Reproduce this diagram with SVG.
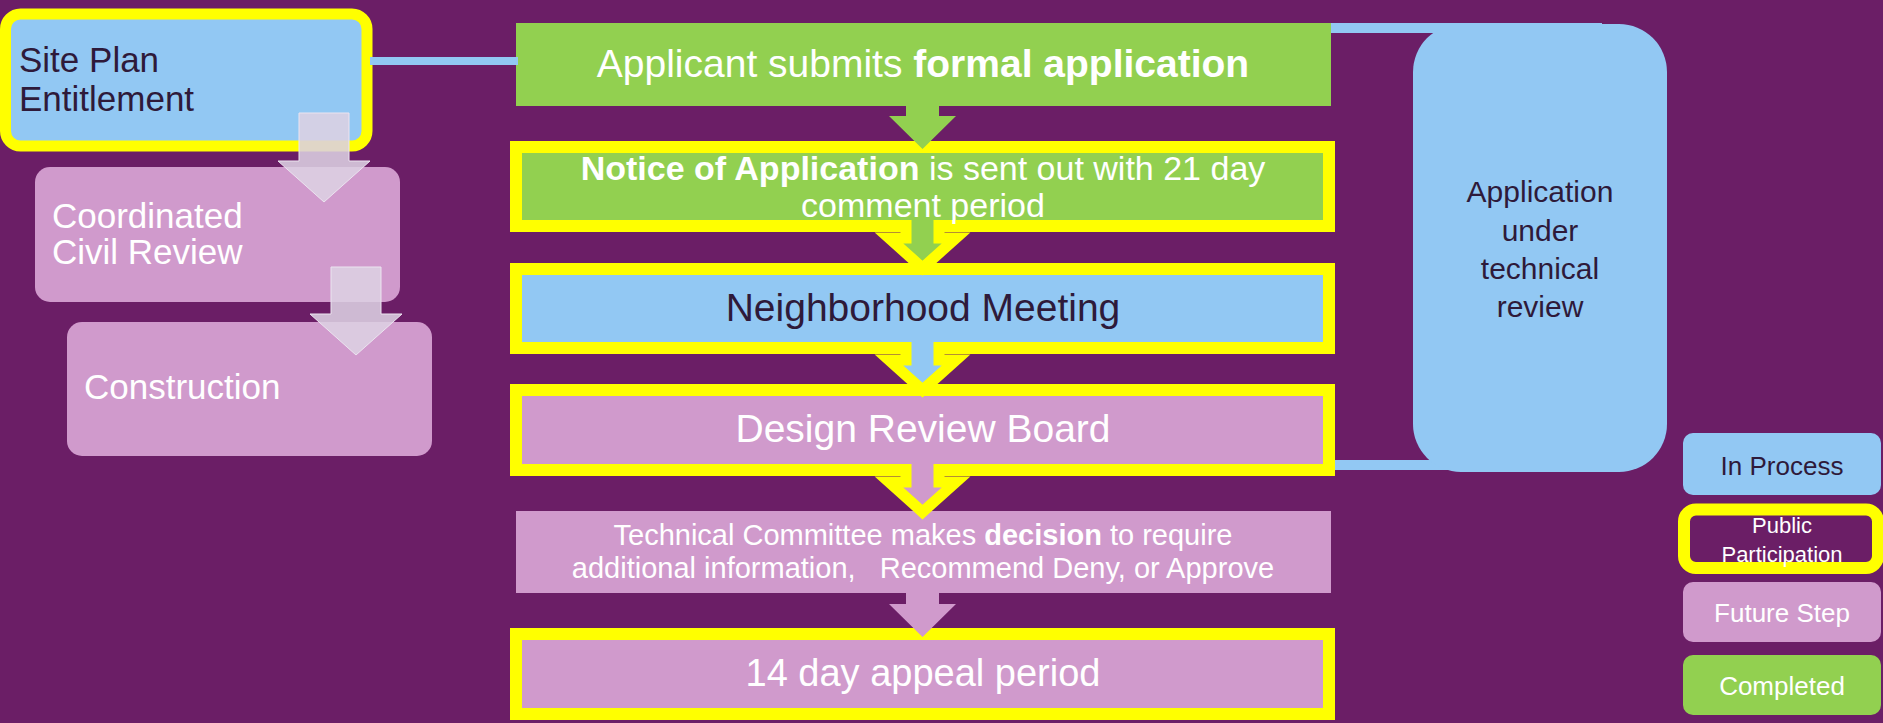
<svg xmlns="http://www.w3.org/2000/svg" width="1883" height="723" viewBox="0 0 1883 723">
<style>
text{font-family:"Liberation Sans",Arial,sans-serif}
.blue{fill:#92c8f3}
.green{fill:#92d050}
.pink{fill:#d09acc}
.pp{stroke:#ffff00;stroke-width:12}
.w{fill:#ffffff}
.d{fill:#2e1a3a}
.c{text-anchor:middle}
.b{font-weight:bold}
.ghost{fill:#dcd0e2;fill-opacity:0.88;stroke:#ece4f0;stroke-width:1}
.ol{fill:none;stroke:#ffff00;stroke-width:11;stroke-linejoin:miter}
</style>
<rect width="1883" height="723" fill="#6b1e66"/>

<g id="site-plan">
<rect x="5.5" y="14" width="361.5" height="132" rx="15" class="blue" stroke="#ffff00" stroke-width="11"/>
<text x="19" y="72" font-size="35" class="d">Site Plan</text>
<text x="19" y="111" font-size="35" class="d">Entitlement</text>
</g>
<g id="civil-review">
<rect x="35" y="167" width="365" height="135" rx="15" class="pink"/>
<text x="52" y="228" font-size="35" class="w">Coordinated</text>
<text x="52" y="264" font-size="35" class="w">Civil Review</text>
</g>
<g id="construction">
<rect x="67" y="322" width="365" height="134" rx="15" class="pink"/>
<text x="84" y="399" font-size="35" class="w">Construction</text>
</g>

<g id="applicant">
<rect x="516" y="23" width="815" height="83" class="green"/>
<text x="923" y="77" font-size="39" class="w c">Applicant submits <tspan class="b">formal application</tspan></text>
</g>
<g id="notice">
<rect x="516" y="147" width="813" height="79" class="green pp"/>
<text x="923" y="180" font-size="34" class="w c"><tspan class="b">Notice of Application</tspan> is sent out with 21 day</text>
<text x="923" y="217" font-size="34" class="w c">comment period</text>
</g>
<g id="neighborhood">
<rect x="516" y="269" width="813" height="79" class="blue pp"/>
<text x="923" y="321" font-size="39" class="d c">Neighborhood Meeting</text>
</g>
<g id="design-review">
<rect x="516" y="390" width="813" height="80" class="pink pp"/>
<text x="923" y="442" font-size="39" class="w c">Design Review Board</text>
</g>
<g id="technical-committee">
<rect x="516" y="511" width="815" height="82" class="pink"/>
<text x="923" y="545" font-size="29" class="w c">Technical Committee makes <tspan class="b">decision</tspan> to require</text>
<text x="923" y="578" font-size="29" class="w c" xml:space="preserve">additional information,   Recommend Deny, or Approve</text>
</g>
<g id="appeal">
<rect x="516" y="634" width="813" height="80" class="pink pp"/>
<text x="923" y="686" font-size="38" class="w c">14 day appeal period</text>
</g>

<g id="legend-in-process">
<rect x="1683" y="433" width="198" height="62" rx="10" class="blue"/>
<text x="1782" y="475" font-size="26" class="d c">In Process</text>
</g>
<g id="legend-public">
<rect x="1684" y="509.5" width="194" height="58.5" rx="12" fill="#6b1e66" class="pp"/>
<text x="1782" y="533" font-size="22" class="w c">Public</text>
<text x="1782" y="562" font-size="22" class="w c">Participation</text>
</g>
<g id="legend-future">
<rect x="1683" y="582" width="198" height="60" rx="10" class="pink"/>
<text x="1782" y="622" font-size="26" class="w c">Future Step</text>
</g>
<g id="legend-completed">
<rect x="1683" y="655" width="198" height="60" rx="10" class="green"/>
<text x="1782" y="695" font-size="26" class="w c">Completed</text>
</g>

<g id="connectors">
<rect x="370" y="57" width="148" height="8" class="blue"/>
<path d="M1331,28 H1597 V465 H1335" fill="none" stroke="#92c8f3" stroke-width="10"/>

<path d="M906,100 V116 H889 L922.5,149 L956,116 H939 V100 Z" class="green"/>

<path d="M906,220 V238 H889 L922.5,268 L956,238 H939 V220 Z" class="green"/>
<path d="M906,220 V238 H889 L922.5,268 L956,238 H939 V220" class="ol"/>

<path d="M906,342 V360 H889 L922.5,390 L956,360 H939 V342 Z" class="blue"/>
<path d="M906,342 V360 H889 L922.5,390 L956,360 H939 V342" class="ol"/>

<path d="M906,464 V482 H889 L922.5,512 L956,482 H939 V464 Z" class="pink"/>
<path d="M906,464 V482 H889 L922.5,512 L956,482 H939 V464" class="ol"/>

<path d="M906,590 V604 H889 L922.5,637 L956,604 H939 V590 Z" class="pink"/>

<path d="M299,113 H349 V161 H370 L324,202 L278,161 H299 Z" class="ghost"/>
<path d="M331,267 H381 V314 H402 L356,355 L310,314 H331 Z" class="ghost"/>
</g>

<g id="technical-review">
<rect x="1413" y="24" width="254" height="448" rx="48" class="blue"/>
<text x="1540" y="202" font-size="30" class="d c">Application</text>
<text x="1540" y="241" font-size="30" class="d c">under</text>
<text x="1540" y="279" font-size="30" class="d c">technical</text>
<text x="1540" y="317" font-size="30" class="d c">review</text>
</g>
</svg>
